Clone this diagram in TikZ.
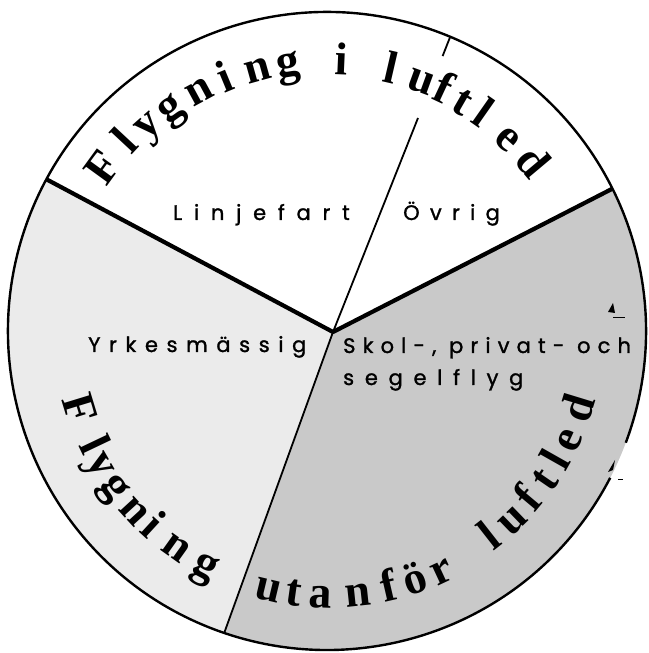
\documentclass[tikz,border=0pt]{standalone}
\usepackage{fontspec}
\newfontfamily\bigserif{Liberation Serif}
\newfontfamily\labfont{Poppins}[FakeBold=1.3]
\usetikzlibrary{calc}
\tikzset{
  lightfill/.style={fill=black!8},
  darkfill/.style={fill=black!21},
  rim/.style={draw=black, line width=2.4pt},
  thickspoke/.style={draw=black, line width=4.2pt, line join=round},
  thinspoke/.style={draw=black, line width=1.8pt},
  bigletter/.style={inner sep=0pt, font=\bigserif\bfseries\fontsize{46}{46}\selectfont},
  lab/.style={inner sep=0pt, anchor=base west, font=\labfont\fontsize{21}{21}\selectfont},
}
\newcommand\spaced[2]{{\addfontfeatures{LetterSpace=#1}#2}}
\begin{document}
\begin{tikzpicture}[x=1pt,y=1pt]
\useasboundingbox (0,0) rectangle (648,653);
\def\R{319}
\coordinate (C0) at (327,322);
\coordinate (O) at (333,321);
\coordinate (TC) at (330,321);
\coordinate (L) at ($(C0)+(151.6:\R)$);
\coordinate (Rt) at ($(C0)+(26.5:\R)$);
\coordinate (B) at ($(C0)+(251.2:\R)$);
\coordinate (T1) at (418,535);
\coordinate (T2) at (442.6,596.9);
\coordinate (T3) at (450.2,616.2);
% sector fills
\path[lightfill] (O) -- (L) arc[start angle=151.6, end angle=251.2, radius=\R] -- cycle;
\path[darkfill] (O) -- (B) arc[start angle=251.2, end angle=386.5, radius=\R] -- cycle;
% rim
\path[rim] ($(C0)+(339.5:\R)$) arc[start angle=339.5, end angle=692.6, radius=\R];
% spokes
\path[thickspoke] (L) -- (O) -- (Rt);
\path[thinspoke] (O) -- (T1);
\path[thinspoke] (T2) -- (T3);
\path[thinspoke] (O) -- (B);
% small marks on the right edge
\fill (613,350) -- (608,341) -- (615,340) -- cycle;
\draw[line width=1pt] (613,335) -- (625,335);
\fill (615,193) -- (608,181) -- (613,183) -- cycle;
\draw[line width=1pt] (618,173) -- (623,173);
% top curved title
\foreach \a/\r/\c [count=\i] in {144/266/F,137/265/l,131.5/264/y,125.5/263/g,118.5/262/n,112.5/261/i,105.5/260/n,99/259/g,87.5/257/i,77/256/l,70/255/u,65/254/f,60/253/t,55/252/l,47.5/251/e,40/250/d}
  \node[bigletter, rotate=\a-90, anchor=base] (top\i) at ($(TC)+(\a:\r)$) {\c};
% bottom curved title
\foreach \a/\r/\c [count=\i] in {197/276/F,205.5/276/l,210/276/y,216/276/g,222.5/276/n,227.5/276/i,234.5/276/n,242/276/g,256.5/276/u,262/276/t,268/276/a,276/276/n,283/276/f,289/276/ö,295/276/r,308/274/l,314/274/u,320/274/f,325.5/274/t,330.5/274/l,335.5/274/e,343/274/d}
  \node[bigletter, rotate=\a+90, anchor=base] (bot\i) at ($(TC)+(\a:\r)$) {\c};
% sector labels
\node[lab] (linje) at (173,433) {\spaced{56}{Linjefart}};
\node[lab] (ovrig) at (403,433) {\spaced{49}{Övrig}};
\node[lab] (yrkes) at (88,301) {\spaced{41}{Yrkesmässig}};
\node[lab] (skol) at (343,300) {\spaced{34}{Skol-, privat- och}};
\node[lab] (segel) at (343,268) {\spaced{51}{segelflyg}};
\end{tikzpicture}
\end{document}
